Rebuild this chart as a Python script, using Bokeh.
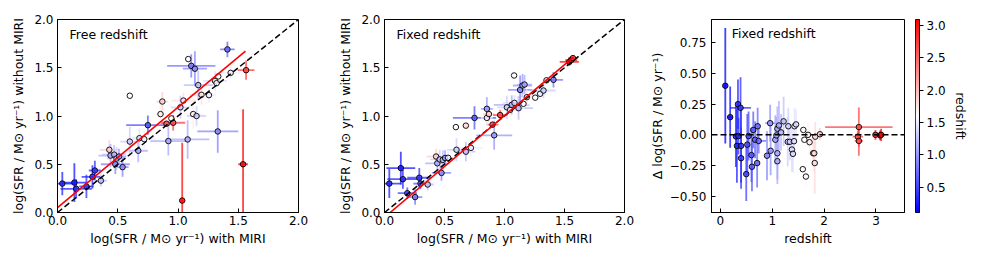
import numpy as np
from bokeh.plotting import figure
from bokeh.models import Range1d, FixedTicker, LinearColorMapper, ColumnDataSource, Label, Span, CustomJSTickFormatter, PrintfTickFormatter
from bokeh.layouts import row
from bokeh.embed import file_html
from bokeh.resources import INLINE

# ---------------- data ----------------
# Panel 1: free redshift
free_x = [0.04, 0.14, 0.155, 0.24, 0.29, 0.31, 0.36, 0.43, 0.44, 0.47, 0.49, 0.51, 0.48, 0.54, 0.60, 0.67, 0.68, 0.72, 0.75, 0.60,
          0.87, 0.855, 0.92, 0.905, 0.96, 0.945, 1.02, 1.045, 1.08, 1.085, 1.11, 1.14, 1.126, 1.154, 1.168, 1.195, 1.257, 1.307,
          1.334, 1.33, 1.41, 1.437, 1.035, 1.54, 1.565, 1.32]
free_y = [0.30, 0.31, 0.245, 0.27, 0.37, 0.435, 0.33, 0.65, 0.59, 0.60, 0.56, 0.58, 0.50, 0.47, 0.735, 0.64, 0.77, 0.76, 0.905, 1.21,
          1.15, 1.02, 0.74, 0.92, 0.93, 0.975, 1.09, 1.16, 0.757, 1.59, 1.52, 1.49, 1.02, 1.00, 1.32, 1.22, 1.216, 1.364,
          1.41, 0.84, 1.69, 1.447, 0.124, 0.50, 1.475, 1.34]
free_xerr = [0.10, 0.10, 0.13, 0.06, 0.09, 0.05, 0.05, 0.08, 0.10, 0.10, 0.08, 0.06, 0.12, 0.05, 0.08, 0.08, 0.06, 0.10, 0.18, 0.02,
             0.05, 0.05, 0.15, 0.05, 0.10, 0.05, 0.08, 0.10, 0.18, 0.03, 0.20, 0.10, 0.08, 0.08, 0.12, 0.10, 0.06, 0.10,
             0.05, 0.17, 0.06, 0.08, 0.02, 0.04, 0.07, 0.03]
free_yerr = [0.12, 0.20, 0.10, 0.12, 0.12, 0.10, 0.06, 0.10, 0.12, 0.10, 0.12, 0.08, 0.10, 0.10, 0.15, 0.12, 0.10, 0.10, 0.10, 0.02,
             0.10, 0.10, 0.15, 0.03, 0.08, 0.06, 0.12, 0.08, 0.20, 0.03, 0.12, 0.18, 0.15, 0.10, 0.15, 0.10, 0.08, 0.10,
             0.06, 0.22, 0.08, 0.06, 0.60, 0.57, 0.10, 0.03]
free_z = [0.3, 0.25, 0.35, 0.4, 0.35, 0.4, 1.2, 1.9, 1.1, 1.2, 1.3, 1.0, 0.9, 0.9, 1.3, 1.1, 1.4, 1.5, 0.6, 1.6,
          1.9, 1.7, 1.1, 2.6, 2.7, 1.6, 1.3, 1.8, 1.1, 1.6, 0.8, 0.9, 1.7, 1.3, 1.2, 1.8, 1.5, 1.4,
          1.6, 0.9, 0.7, 1.5, 3.0, 3.05, 2.7, 1.6]

# Panel 2: fixed redshift
fixed_x = [0.04, 0.136, 0.153, 0.19, 0.255, 0.29, 0.30, 0.36, 0.43, 0.44, 0.46, 0.475, 0.486, 0.505, 0.53, 0.60, 0.595, 0.678,
           0.678, 0.72, 0.75, 0.853, 0.853, 0.87, 0.914, 0.90, 0.964, 1.02, 1.047, 1.06, 1.08, 1.083, 1.117, 1.13, 1.15, 1.167,
           1.158, 1.186, 1.256, 1.297, 1.325, 1.408, 1.54, 1.556, 1.57, 1.35]
fixed_y = [0.30, 0.46, 0.345, 0.20, 0.16, 0.36, 0.30, 0.29, 0.58, 0.51, 0.55, 0.41, 0.545, 0.565, 0.567, 0.65, 0.885, 0.90,
           0.63, 0.67, 0.98, 1.074, 0.98, 1.02, 0.80, 0.91, 1.01, 1.09, 1.064, 1.116, 1.42, 1.136, 1.081, 1.27, 1.316, 1.326,
           1.126, 1.195, 1.19, 1.23, 1.264, 1.375, 1.56, 1.58, 1.60, 1.37]
fixed_xerr = [0.10, 0.12, 0.13, 0.08, 0.06, 0.10, 0.06, 0.05, 0.08, 0.10, 0.08, 0.08, 0.06, 0.06, 0.05, 0.08, 0.02, 0.03,
              0.08, 0.10, 0.18, 0.05, 0.05, 0.05, 0.15, 0.05, 0.06, 0.08, 0.10, 0.15, 0.03, 0.10, 0.12, 0.10, 0.08, 0.06,
              0.06, 0.08, 0.05, 0.06, 0.10, 0.08, 0.08, 0.05, 0.04, 0.03]
fixed_yerr = [0.15, 0.17, 0.10, 0.06, 0.08, 0.10, 0.06, 0.06, 0.08, 0.10, 0.10, 0.08, 0.10, 0.08, 0.08, 0.12, 0.02, 0.03,
              0.10, 0.10, 0.12, 0.12, 0.08, 0.08, 0.15, 0.03, 0.05, 0.12, 0.08, 0.10, 0.03, 0.08, 0.12, 0.15, 0.12, 0.10,
              0.10, 0.08, 0.06, 0.06, 0.08, 0.08, 0.04, 0.03, 0.03, 0.03]
fixed_z = [0.3, 0.25, 0.35, 0.5, 0.8, 0.4, 0.6, 1.2, 1.9, 1.1, 1.3, 0.9, 1.2, 1.0, 1.5, 1.3, 1.6, 1.8,
           1.2, 1.5, 0.6, 1.0, 1.5, 1.9, 1.0, 2.6, 2.7, 1.3, 1.7, 1.1, 1.6, 1.4, 1.2, 0.9, 1.0, 1.1,
           1.6, 1.8, 1.6, 1.5, 1.3, 0.8, 3.0, 3.05, 2.7, 1.7]

# Panel 3: difference vs redshift (fixed redshift)
dz = [0.096, 0.19, 0.30, 0.32, 0.34, 0.35, 0.39, 0.40, 0.40, 0.50, 0.52, 0.545, 0.60, 0.61, 0.635, 0.67, 0.71, 0.72, 0.74,
      0.90, 0.96, 0.97, 1.06, 1.08, 1.10, 1.10, 1.10, 1.13, 1.17, 1.22, 1.31, 1.30, 1.34, 1.38, 1.40, 1.43, 1.46, 1.42,
      1.59, 1.65, 1.62, 1.69, 1.72, 1.79, 1.81, 1.82, 1.83, 1.92, 2.67, 2.65, 2.67, 2.99, 3.08, 3.10, 1.60]
dsfr = [0.40, 0.144, -0.013, -0.09, 0.25, -0.01, 0.22, -0.09, -0.19, -0.32, -0.08, -0.01, -0.165, -0.26, 0.04, -0.04, -0.23,
        0.07, -0.05, -0.17, 0.095, -0.13, -0.04, -0.005, 0.05, -0.15, -0.215, 0.076, 0.02, 0.11, 0.07, -0.057, -0.057, -0.12,
        -0.155, 0.07, 0.085, -0.052, -0.28, -0.34, -0.04, 0.0, -0.06, -0.15, -0.15, -0.23, -0.015, 0.005, 0.063, -0.015,
        -0.05, 0.0, -0.005, 0.0, 0.04]
dz_err = [0.02, 0.05, 0.04, 0.02, 0.03, 0.05, 0.20, 0.03, 0.02, 0.03, 0.03, 0.05, 0.03, 0.02, 0.04, 0.05, 0.03, 0.03, 0.15,
          0.03, 0.10, 0.03, 0.03, 0.05, 0.03, 0.03, 0.03, 0.04, 0.03, 0.03, 0.03, 0.03, 0.03, 0.03, 0.03, 0.03, 0.03, 0.03,
          0.02, 0.02, 0.02, 0.02, 0.02, 0.08, 0.03, 0.03, 0.05, 0.05, 0.65, 0.10, 0.08, 0.03, 0.08, 0.04, 0.02]
dsfr_err = [0.47, 0.25, 0.25, 0.30, 0.20, 0.15, 0.25, 0.30, 0.25, 0.22, 0.25, 0.20, 0.22, 0.20, 0.15, 0.15, 0.20, 0.15, 0.10,
            0.20, 0.15, 0.20, 0.20, 0.15, 0.18, 0.25, 0.15, 0.20, 0.15, 0.20, 0.15, 0.20, 0.15, 0.18, 0.15, 0.15, 0.12, 0.12,
            0.08, 0.08, 0.10, 0.10, 0.10, 0.10, 0.15, 0.25, 0.12, 0.05, 0.16, 0.05, 0.12, 0.04, 0.04, 0.05, 0.10]

# fit lines (slope, intercept, x extent)
fit_free = dict(slope=1.04, intercept=0.05, xmin=0.0, xmax=1.56)
fit_fixed = dict(slope=1.054, intercept=-0.05, xmin=0.047, xmax=1.575)
one_to_one = [0.0, 2.0]

z_min, z_max = 0.11, 3.09
xy_ticks = [0.0, 0.5, 1.0, 1.5, 2.0]
d_ticks = [-0.5, -0.25, 0.0, 0.25, 0.5, 0.75]
z_ticks = [0, 1, 2, 3]
cb_ticks = [0.5, 1.0, 1.5, 2.0, 2.5, 3.0]

# ---------------- styling helpers ----------------
FONT = "DejaVu Sans"
TICK_SIZE = "12px"
LABEL_SIZE = "12.5px"
TOP, FRAME_H, BOTTOM = 19, 193, 46
H = TOP + FRAME_H + BOTTOM


def bwr_palette(n=256):
    cols = []
    for i in range(n):
        t = i / (n - 1)
        if t < 0.5:
            r = g = 2 * t
            b = 1.0
        else:
            r = 1.0
            g = b = 2 * (1 - t)
        cols.append("#%02x%02x%02x" % (int(round(r * 255)), int(round(g * 255)), int(round(b * 255))))
    return cols


mapper = LinearColorMapper(palette=bwr_palette(), low=z_min, high=z_max)


def style_axes(p):
    for ax in (p.xaxis + p.yaxis):
        ax.major_tick_in = 4
        ax.major_tick_out = 0
        ax.minor_tick_line_color = None
        ax.axis_line_color = "black"
        ax.major_tick_line_color = "black"
        ax.major_label_text_font = FONT
        ax.major_label_text_font_size = TICK_SIZE
        ax.major_label_text_color = "black"
        ax.axis_label_text_font = FONT
        ax.axis_label_text_font_size = LABEL_SIZE
        ax.axis_label_text_font_style = "normal"
        ax.axis_label_text_color = "black"
    p.xaxis.major_label_standoff = 3
    p.xaxis.axis_label_standoff = 3
    p.yaxis.major_label_standoff = 4
    p.yaxis.axis_label_standoff = 5
    p.xgrid.visible = False
    p.ygrid.visible = False
    p.outline_line_color = "black"
    p.outline_line_width = 1
    p.background_fill_color = "white"
    p.border_fill_color = "white"


def make_source(x, y, xerr, yerr, z):
    x = np.array(x, float); y = np.array(y, float)
    xe = np.array(xerr, float); ye = np.array(yerr, float)
    return ColumnDataSource(dict(x=x, y=y, z=np.array(z, float),
                                 xl=x - xe, xr=x + xe, yl=y - ye, yh=y + ye))


def draw_points(p, src):
    cmap = {"field": "z", "transform": mapper}
    p.segment(x0="xl", y0="y", x1="xr", y1="y", source=src, line_color=cmap, line_width=1.8, line_alpha=0.75)
    p.segment(x0="x", y0="yl", x1="x", y1="yh", source=src, line_color=cmap, line_width=1.8, line_alpha=0.75)
    p.scatter("x", "y", source=src, size=5.5, marker="circle", fill_color=cmap, fill_alpha=0.8,
              line_color="black", line_width=0.9)


def sfr_panel(width, left, right, x, y, xerr, yerr, z, fit, title):
    p = figure(width=width, height=H, output_backend="svg", toolbar_location=None,
               x_range=Range1d(0, 2), y_range=Range1d(0, 2),
               min_border_left=left, min_border_right=right, min_border_top=TOP, min_border_bottom=BOTTOM)
    style_axes(p)
    p.xaxis.ticker = FixedTicker(ticks=xy_ticks)
    p.yaxis.ticker = FixedTicker(ticks=xy_ticks)
    p.xaxis.formatter = PrintfTickFormatter(format="%.1f")
    p.yaxis.formatter = PrintfTickFormatter(format="%.1f")
    p.xaxis.axis_label = "log(SFR / M\u2299 yr\u207b\u00b9) with MIRI"
    p.yaxis.axis_label = "log(SFR / M\u2299 yr\u207b\u00b9) without MIRI"
    draw_points(p, make_source(x, y, xerr, yerr, z))
    p.line(one_to_one, one_to_one, line_color="black", line_dash="6 3", line_width=1.5)
    fx = np.array([fit["xmin"], fit["xmax"]])
    p.line(fx, fit["slope"] * fx + fit["intercept"], line_color="red", line_width=1.6)
    p.add_layout(Label(x=0.1, y=1.845, text=title, text_font=FONT, text_font_size=LABEL_SIZE,
                       text_baseline="middle", text_color="black"))
    return p


p1 = sfr_panel(335, 57, 37, free_x, free_y, free_xerr, free_yerr, free_z, fit_free, "Free redshift")
p2 = sfr_panel(310, 49, 21, fixed_x, fixed_y, fixed_xerr, fixed_yerr, fixed_z, fit_fixed, "Fixed redshift")

# Panel 3
p3 = figure(width=265, height=H, output_backend="svg", toolbar_location=None,
            x_range=Range1d(-0.17, 3.55), y_range=Range1d(-0.633, 0.94),
            min_border_left=66, min_border_right=6, min_border_top=TOP, min_border_bottom=BOTTOM)
style_axes(p3)
p3.yaxis.major_label_standoff = 5
p3.yaxis.axis_label_standoff = 2
p3.xaxis.ticker = FixedTicker(ticks=z_ticks)
p3.yaxis.ticker = FixedTicker(ticks=d_ticks)
p3.yaxis.formatter = CustomJSTickFormatter(code="return tick.toFixed(2).replace('-', '\u2212');")
p3.xaxis.axis_label = "redshift"
p3.yaxis.axis_label = "\u0394 log(SFR / M\u2299 yr\u207b\u00b9)"
draw_points(p3, make_source(dz, dsfr, dz_err, dsfr_err, dz))
p3.add_layout(Span(location=0, dimension="width", line_color="black", line_dash="6 3", line_width=1.5))
p3.add_layout(Label(x=0.22, y=0.826, text="Fixed redshift", text_font=FONT, text_font_size=LABEL_SIZE,
                    text_baseline="middle", text_color="black"))

# Colorbar as a narrow figure
pc = figure(width=60, height=H, output_backend="svg", toolbar_location=None,
            x_range=Range1d(0, 1), y_range=Range1d(z_min, z_max), y_axis_location="right",
            min_border_left=5, min_border_right=46, min_border_top=TOP, min_border_bottom=BOTTOM)
grad = np.linspace(z_min, z_max, 256).reshape(-1, 1)
pc.image(image=[grad], x=0, y=z_min, dw=1, dh=z_max - z_min, color_mapper=mapper)
pc.xaxis.visible = False
pc.xgrid.visible = False
pc.ygrid.visible = False
pc.outline_line_color = "black"
ax = pc.yaxis[0]
ax.ticker = FixedTicker(ticks=cb_ticks)
ax.formatter = PrintfTickFormatter(format="%.1f")
ax.major_tick_in = 0
ax.major_tick_out = 4
ax.minor_tick_line_color = None
ax.axis_line_color = "black"
ax.major_tick_line_color = "black"
ax.major_label_text_font = FONT
ax.major_label_text_font_size = TICK_SIZE
ax.major_label_text_color = "black"
ax.major_label_standoff = 3
ax.axis_label = "redshift"
ax.axis_label_text_font = FONT
ax.axis_label_text_font_size = LABEL_SIZE
ax.axis_label_text_font_style = "normal"
ax.axis_label_text_color = "black"
ax.axis_label_standoff = 4

layout = row(p1, p2, p3, pc)
open("out.html", "w").write(file_html(layout, INLINE))
